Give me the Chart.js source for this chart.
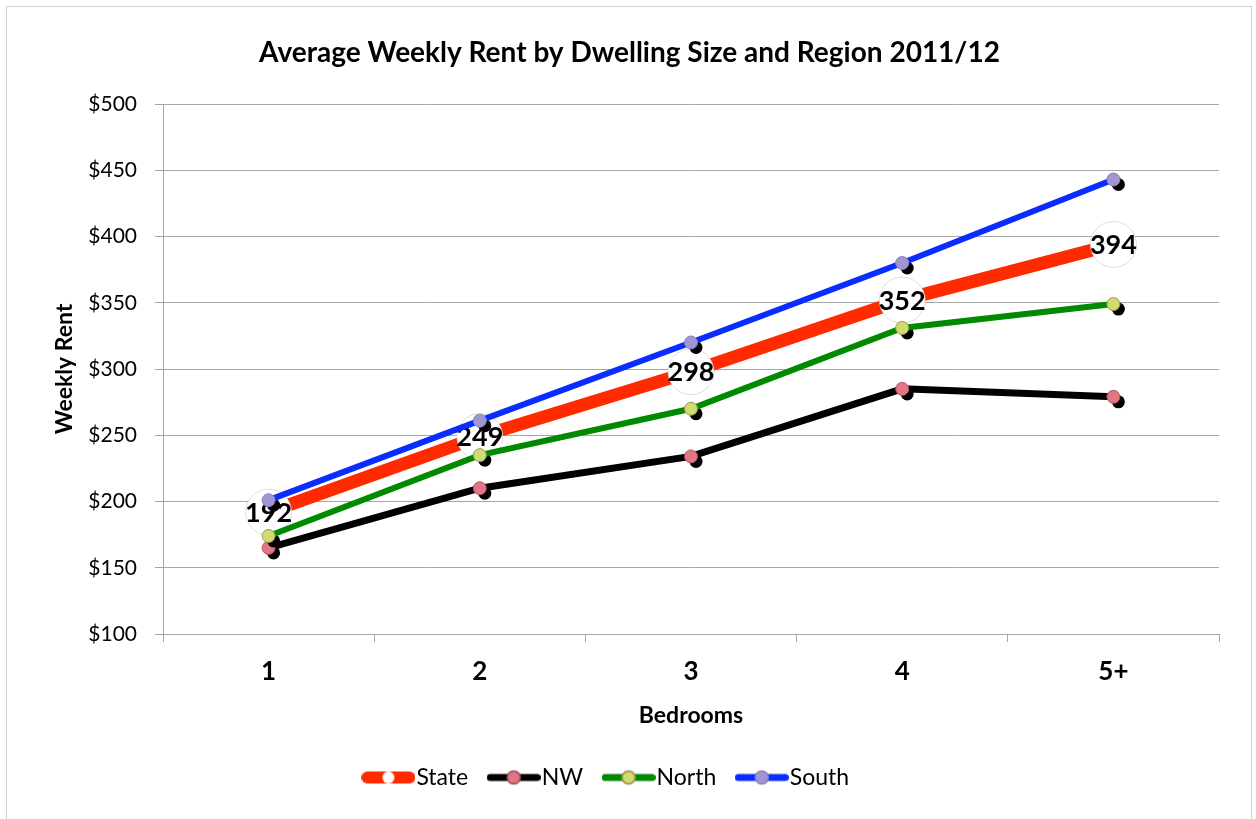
<!DOCTYPE html>
<html>
<head>
<meta charset="utf-8">
<script src="https://cdn.jsdelivr.net/npm/chart.js@4/dist/chart.umd.min.js"></script>
<style>
html,body{margin:0;padding:0;background:#fff;}
#wrap{width:1256px;height:819px;position:relative;}
</style>
</head>
<body>
<div id="wrap"><canvas id="c" width="1256" height="819"></canvas></div>
<script>
// ---- data ----
const categories = ['1', '2', '3', '4', '5+'];
const seriesNames = ['State', 'NW', 'North', 'South'];
const stateValues = [192, 249, 298, 352, 394];
const nwValues = [165, 210, 234, 285, 279];
const northValues = [174, 235, 270, 331, 349];
const southValues = [201, 261, 320, 380, 443];
const yMin = 100, yMax = 500, yStep = 50;
const titleText = 'Average Weekly Rent by Dwelling Size and Region 2011/12';
const xTitle = 'Bedrooms';
const yTitle = 'Weekly Rent';

const FONT = 'Lato';

function makeSwatch(lineColor, lineW, fill, stroke, r) {
  const cv = document.createElement('canvas');
  cv.width = 54; cv.height = 18;
  const g = cv.getContext('2d');
  g.strokeStyle = lineColor; g.lineWidth = lineW; g.lineCap = 'round';
  g.beginPath(); g.moveTo(lineW / 2, 9); g.lineTo(54 - lineW / 2, 9); g.stroke();
  g.beginPath(); g.arc(27, 9, r, 0, Math.PI * 2);
  g.fillStyle = fill; g.fill();
  if (stroke) { g.lineWidth = 1.5; g.strokeStyle = stroke; g.stroke(); }
  return cv;
}

const styles = [
  {color: '#ff2a00', width: 13, fill: '#ffffff', stroke: 'rgba(200,200,200,0.6)', r: 23, swR: 6, swStroke: null},
  {color: '#000000', width: 7, fill: '#e27783', stroke: '#b05468', r: 6.5, swR: 6.5, swStroke: '#9c4a63'},
  {color: '#008a00', width: 6, fill: '#cfdc72', stroke: '#a29a4c', r: 6.5, swR: 6.5, swStroke: '#a08a48'},
  {color: '#0a2cff', width: 6, fill: '#a096d2', stroke: '#8a80bf', r: 6.5, swR: 6.5, swStroke: '#8a80bf'}
];
const seriesValues = [stateValues, nwValues, northValues, southValues];
const orders = [4, 3, 2, 1];

const datasets = seriesNames.map((name, i) => {
  const s = styles[i];
  return {
    label: name,
    data: seriesValues[i],
    borderColor: s.color,
    backgroundColor: s.fill,
    borderWidth: s.width,
    pointRadius: s.r,
    pointHoverRadius: s.r,
    pointBackgroundColor: s.fill,
    pointBorderColor: s.stroke,
    pointBorderWidth: 1,
    pointStyle: 'circle',
    tension: 0,
    order: orders[i],
    legendSwatch: makeSwatch(s.color, i === 0 ? 12 : 7, s.fill, s.swStroke, s.swR),
    markerShadow: i !== 0,
    valueLabels: i === 0
  };
});

const framePlugin = {
  id: 'frame',
  beforeDraw(chart) {
    const ctx = chart.ctx;
    ctx.save();
    ctx.fillStyle = '#ffffff';
    ctx.fillRect(0, 0, chart.width, chart.height);
    ctx.strokeStyle = '#d0d0d0';
    ctx.lineWidth = 1;
    ctx.strokeRect(6.5, 6.5, 1245, 840);
    ctx.restore();
  }
};

const legendShiftPlugin = {
  id: 'legendShift',
  afterLayout(chart) {
    if (chart.legend) { chart.legend.left -= 38; chart.legend.top += 3; }
  }
};

const shadowPlugin = {
  id: 'markerShadow',
  beforeDatasetDraw(chart, args) {
    const ds = chart.data.datasets[args.index];
    if (!ds.markerShadow) return;
    const ctx = chart.ctx;
    ctx.save();
    ctx.fillStyle = '#000000';
    args.meta.data.forEach(el => {
      ctx.beginPath();
      ctx.arc(el.x + 5, el.y + 5, 6.5, 0, Math.PI * 2);
      ctx.fill();
    });
    ctx.restore();
  }
};

const labelPlugin = {
  id: 'valueLabels',
  afterDatasetDraw(chart, args) {
    const ds = chart.data.datasets[args.index];
    if (!ds.valueLabels) return;
    const ctx = chart.ctx;
    ctx.save();
    ctx.font = 'bold 27px ' + FONT;
    ctx.fillStyle = '#000000';
    ctx.textAlign = 'center';
    ctx.textBaseline = 'middle';
    args.meta.data.forEach((el, j) => {
      ctx.fillText(String(ds.data[j]), el.x, el.y + 1);
    });
    ctx.restore();
  }
};

new Chart(document.getElementById('c'), {
  type: 'line',
  data: {labels: categories, datasets: datasets},
  plugins: [framePlugin, legendShiftPlugin, shadowPlugin, labelPlugin],
  options: {
    responsive: false,
    animation: false,
    devicePixelRatio: 1,
    layout: {padding: {left: 40, right: 37, top: 10, bottom: 23}},
    plugins: {
      title: {
        display: true,
        text: titleText,
        color: '#000000',
        font: {family: FONT, size: 28, weight: 'bold'},
        padding: {top: 26.2, bottom: 34.2}
      },
      legend: {
        position: 'bottom',
        labels: {
          usePointStyle: true,
          pointStyleWidth: 33,
          padding: 29,
          color: '#000000',
          font: {family: FONT, size: 23},
          generateLabels(chart) {
            return chart.data.datasets.map((ds, i) => ({
              text: ds.label,
              pointStyle: ds.legendSwatch,
              fillStyle: ds.borderColor,
              strokeStyle: ds.borderColor,
              lineWidth: 0,
              hidden: false,
              datasetIndex: i,
              fontColor: '#000000'
            }));
          }
        }
      },
      tooltip: {enabled: false}
    },
    scales: {
      x: {
        type: 'category',
        offset: true,
        grid: {offset: true, drawOnChartArea: false, drawTicks: true, tickLength: 8, color: '#a6a6a6'},
        border: {color: '#a6a6a6', width: 1},
        ticks: {color: '#000000', font: {family: FONT, size: 26, weight: 'bold'}, padding: 14, maxRotation: 0},
        title: {display: true, text: xTitle, color: '#000000', font: {family: FONT, size: 23, weight: 'bold'}, padding: {top: 0, bottom: 4.2}},
        afterFit(scale) { scale.height = 100; }
      },
      y: {
        min: yMin, max: yMax,
        grid: {color: '#a6a6a6', tickLength: 8, drawTicks: true},
        border: {color: '#a6a6a6', width: 1},
        ticks: {stepSize: yStep, color: '#000000', font: {family: FONT, size: 21}, padding: 18,
          callback: v => '$' + v},
        title: {display: true, text: yTitle, color: '#000000', font: {family: FONT, size: 23, weight: 'bold'}, padding: {top: 11.2, bottom: 0}},
        afterFit(scale) { scale.width = 123; }
      }
    }
  }
});
</script>
</body>
</html>
